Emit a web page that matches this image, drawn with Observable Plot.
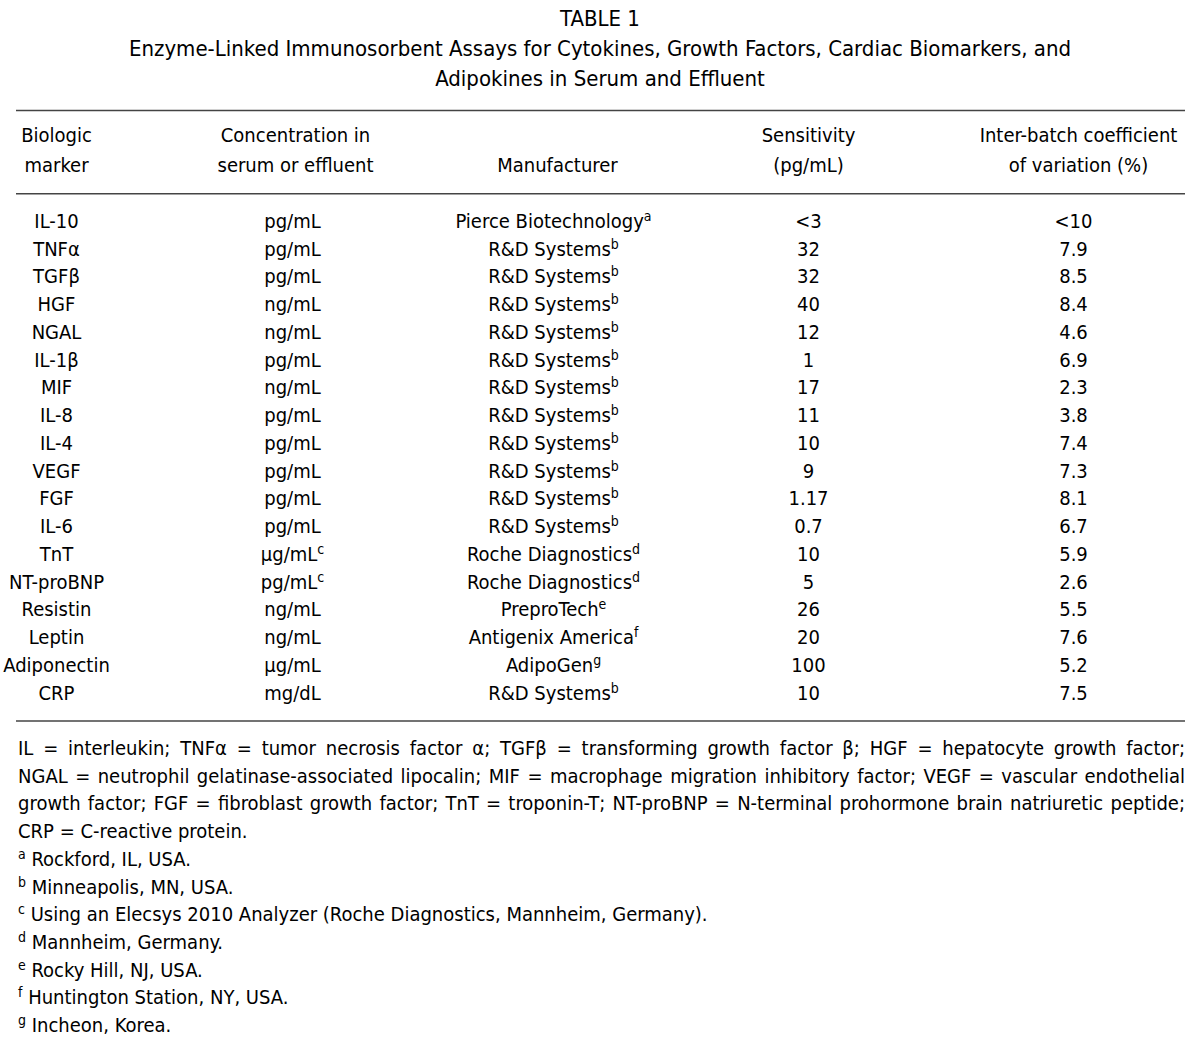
<!DOCTYPE html>
<html>
<head>
<meta charset="utf-8">
<script src="https://cdn.jsdelivr.net/npm/d3@7"></script>
<script src="https://cdn.jsdelivr.net/npm/@observablehq/plot@0.6"></script>
<style>
  html, body { margin: 0; padding: 0; background: #fff; }
  body { width: 1200px; font-family: "DejaVu Sans Condensed", "DejaVu Sans", sans-serif; color: #000; }
  #title { height: 100px; box-sizing: border-box; padding-top: 4px; text-align: center; font-size: 22px; line-height: 30px; }
  #chart svg { display: block; }
  #notes { padding-left: 18px; width: 1167px; font-size: 20px; line-height: 27.7px; }
  #notes .j { text-align: justify; text-align-last: justify; white-space: nowrap; }
  #notes sup { font-size: 14px; vertical-align: 7px; line-height: 0; }
</style>
</head>
<body>
<div id="title"></div>
<div id="chart"></div>
<div id="notes"></div>
<script>
// ---- data ----
const titleLines = [
  "TABLE 1",
  "Enzyme-Linked Immunosorbent Assays for Cytokines, Growth Factors, Cardiac Biomarkers, and",
  "Adipokines in Serum and Effluent"
];
const headerLine1 = ["Biologic", "Concentration in", "", "Sensitivity", "Inter-batch coefficient"];
const headerLine2 = ["marker", "serum or effluent", "Manufacturer", "(pg/mL)", "of variation (%)"];
const markers = ["IL-10","TNFα","TGFβ","HGF","NGAL","IL-1β","MIF","IL-8","IL-4","VEGF","FGF","IL-6","TnT","NT-proBNP","Resistin","Leptin","Adiponectin","CRP"];
const units = ["pg/mL","pg/mL","pg/mL","ng/mL","ng/mL","pg/mL","ng/mL","pg/mL","pg/mL","pg/mL","pg/mL","pg/mL","µg/mL^c","pg/mL^c","ng/mL","ng/mL","µg/mL","mg/dL"];
const manufacturers = ["Pierce Biotechnology^a","R&D Systems^b","R&D Systems^b","R&D Systems^b","R&D Systems^b","R&D Systems^b","R&D Systems^b","R&D Systems^b","R&D Systems^b","R&D Systems^b","R&D Systems^b","R&D Systems^b","Roche Diagnostics^d","Roche Diagnostics^d","PreproTech^e","Antigenix America^f","AdipoGen^g","R&D Systems^b"];
const sensitivity = ["<3","32","32","40","12","1","17","11","10","9","1.17","0.7","10","5","26","20","100","10"];
const cv = ["<10","7.9","8.5","8.4","4.6","6.9","2.3","3.8","7.4","7.3","8.1","6.7","5.9","2.6","5.5","7.6","5.2","7.5"];
const abbreviationLines = [
  "IL = interleukin; TNFα = tumor necrosis factor α; TGFβ = transforming growth factor β; HGF = hepatocyte growth factor;",
  "NGAL = neutrophil gelatinase-associated lipocalin; MIF = macrophage migration inhibitory factor; VEGF = vascular endothelial",
  "growth factor; FGF = fibroblast growth factor; TnT = troponin-T; NT-proBNP = N-terminal prohormone brain natriuretic peptide;",
  "CRP = C-reactive protein."
];
const footnoteKeys = ["a","b","c","d","e","f","g"];
const footnoteTexts = [
  "Rockford, IL, USA.",
  "Minneapolis, MN, USA.",
  "Using an Elecsys 2010 Analyzer (Roche Diagnostics, Mannheim, Germany).",
  "Mannheim, Germany.",
  "Rocky Hill, NJ, USA.",
  "Huntington Station, NY, USA.",
  "Incheon, Korea."
];

// ---- layout (not data) ----
const headerX = [56, 295, 557, 808, 1078];
const bodyX = [56, 292, 553, 808, 1073];

// ---- title ----
const titleEl = document.getElementById("title");
titleLines.forEach(t => { const d = document.createElement("div"); d.textContent = t; titleEl.appendChild(d); });

// ---- table cells ----
const columns = [markers, units, manufacturers, sensitivity, cv];
const cells = [];
columns.forEach((col, c) => col.forEach((t, r) => cells.push({c, r, t})));
const headCells = [];
headerLine1.forEach((t, c) => headCells.push({c, r: -3.1, t}));
headerLine2.forEach((t, c) => headCells.push({c, r: -2.0, t}));

const chart = Plot.plot({
  width: 1200,
  height: 635,
  margin: 0,
  x: {type: "linear", domain: [0, 1200], range: [0, 1200], axis: null},
  y: {type: "linear", domain: [-4.36, 18.52], range: [0, 635], axis: null},
  style: {fontFamily: "'DejaVu Sans Condensed', 'DejaVu Sans', sans-serif", background: "#fff", color: "#000"},
  marks: [
    Plot.ruleY([-4, -1, 18], {x1: 16, x2: 1185, stroke: "#444", strokeWidth: 1.6}),
    Plot.text(headCells, {x: d => headerX[d.c], y: "r", text: "t", fontSize: 20, fill: "#000", textAnchor: "middle"}),
    Plot.text(cells, {x: d => bodyX[d.c], y: "r", text: "t", fontSize: 20, fill: "#000", textAnchor: "middle"})
  ]
});

// turn "^x" markers into real superscript tspans
chart.querySelectorAll("text").forEach(el => {
  const s = el.textContent;
  const k = s.indexOf("^");
  if (k < 0) return;
  const ns = "http://www.w3.org/2000/svg";
  el.textContent = "";
  const base = document.createElementNS(ns, "tspan");
  base.textContent = s.slice(0, k);
  const sup = document.createElementNS(ns, "tspan");
  sup.textContent = s.slice(k + 1);
  sup.setAttribute("font-size", "14");
  sup.setAttribute("dy", "-7");
  el.appendChild(base);
  el.appendChild(sup);
});
document.getElementById("chart").appendChild(chart);

// ---- notes ----
const notesEl = document.getElementById("notes");
abbreviationLines.forEach((t, i) => {
  const d = document.createElement("div");
  if (i < abbreviationLines.length - 1) d.className = "j";
  d.textContent = t;
  notesEl.appendChild(d);
});
footnoteKeys.forEach((k, i) => {
  const d = document.createElement("div");
  const s = document.createElement("sup"); s.textContent = k;
  d.appendChild(s);
  d.appendChild(document.createTextNode(" " + footnoteTexts[i]));
  notesEl.appendChild(d);
});
</script>
</body>
</html>
